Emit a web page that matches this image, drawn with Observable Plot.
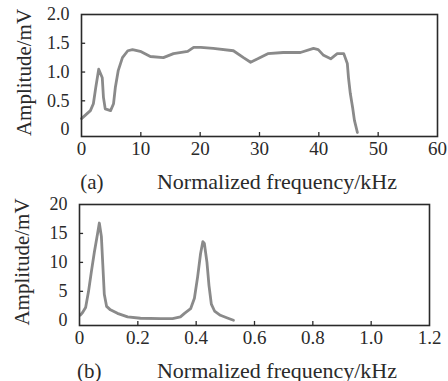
<!DOCTYPE html>
<html>
<head>
<meta charset="utf-8">
<script src="https://cdn.jsdelivr.net/npm/d3@7"></script>
<script src="https://cdn.jsdelivr.net/npm/@observablehq/plot@0.6"></script>
<style>
  html, body { margin: 0; padding: 0; background: #fff; }
  #chart svg { display: block; overflow: visible; }
</style>
</head>
<body>
<div id="chart"></div>
<script>
// Panel (a)
const freqA = [0, 1.5, 2.0, 2.4, 2.9, 3.5, 3.7, 4.0, 4.9, 5.4, 5.7, 6.2, 6.9, 7.8, 8.6, 9.9, 11.6, 13.8, 15.5, 17.9, 18.9, 20.1, 22.2, 25.6, 27.3, 28.5, 29.7, 31.4, 34.0, 36.9, 39.1, 39.9, 40.8, 42.0, 43.1, 44.2, 44.8, 45.0, 45.3, 45.7, 46.0, 46.5];
const ampA  = [0.19, 0.33, 0.45, 0.73, 1.05, 0.9, 0.56, 0.36, 0.33, 0.45, 0.73, 1.03, 1.25, 1.37, 1.39, 1.36, 1.27, 1.25, 1.32, 1.36, 1.43, 1.43, 1.41, 1.37, 1.25, 1.17, 1.23, 1.32, 1.34, 1.34, 1.41, 1.39, 1.29, 1.23, 1.32, 1.32, 1.15, 0.9, 0.63, 0.38, 0.16, -0.05];
const xTicksA = [0, 10, 20, 30, 40, 50, 60];
const yTicksA = [0, 0.5, 1.0, 1.5, 2.0];

// Panel (b)
const freqB = [0.003, 0.010, 0.021, 0.031, 0.041, 0.051, 0.062, 0.068, 0.075, 0.080, 0.085, 0.093, 0.106, 0.130, 0.165, 0.209, 0.278, 0.319, 0.346, 0.360, 0.381, 0.394, 0.405, 0.415, 0.423, 0.428, 0.437, 0.444, 0.452, 0.463, 0.483, 0.507, 0.528];
const ampB  = [0.9, 1.3, 2.2, 5.0, 8.5, 11.8, 15.0, 16.8, 14.5, 9.5, 4.5, 2.4, 1.8, 1.2, 0.6, 0.35, 0.3, 0.3, 0.6, 1.2, 2.0, 3.8, 7.5, 11.5, 13.6, 13.3, 10.0, 6.0, 2.8, 1.6, 0.86, 0.4, 0.0];
const xTicksB = [0, 0.2, 0.4, 0.6, 0.8, 1.0, 1.2];
const yTicksB = [0, 5, 10, 15, 20];

const xLabel = "Normalized frequency/kHz";
const yLabel = "Amplitude/mV";
const panelLabels = ["(a)", "(b)"];

const lineColor = "#8a8a8a";
const inkColor = "#2a2a2a";
const fmt1 = d => d === 0 ? "0" : d.toFixed(1);

function panel(opts) {
  const {freq, amp, xTicks, yTicks, xDomain, yDomain, height, margins, xFmt, yFmt, tag, xLabelDx, yTickLenX, xTickLenY} = opts;
  const data = freq.map((f, i) => ({f, a: amp[i]}));
  const innerX = xTicks.slice(1, -1);
  const innerY = yTicks.slice(1, -1);
  return Plot.plot({
    width: 448,
    height,
    ...margins,
    style: {fontFamily: "'Liberation Serif', 'Times New Roman', serif", color: inkColor, background: "#fff", overflow: "visible"},
    x: {domain: xDomain},
    y: {domain: yDomain},
    marks: [
      Plot.line(data, {x: "f", y: "a", stroke: lineColor, strokeWidth: 2.8, strokeLinejoin: "round", strokeLinecap: "round"}),
      Plot.ruleX(innerX, {y1: yDomain[0], y2: yDomain[0] + xTickLenY, stroke: inkColor, strokeWidth: 1.3}),
      Plot.ruleY(innerY, {x1: xDomain[0], x2: xDomain[0] + yTickLenX, stroke: inkColor, strokeWidth: 1.3}),
      Plot.frame({stroke: inkColor, strokeWidth: 1.6}),
      Plot.axisX({ticks: xTicks, tickSize: 0, tickPadding: 5, tickFormat: xFmt, fontSize: 19, label: null}),
      Plot.axisY({ticks: yTicks, tickSize: 0, tickPadding: 12, tickFormat: yFmt, fontSize: 18, label: null}),
      Plot.text([yLabel], {frameAnchor: "left", textAnchor: "middle", lineAnchor: "middle", rotate: -90, dx: -57, dy: -3, fontSize: 21, fill: inkColor}),
      Plot.text([xLabel], {frameAnchor: "bottom", textAnchor: "middle", dx: xLabelDx, dy: 52, lineAnchor: "bottom", fontSize: 22, fill: inkColor}),
      Plot.text([tag], {frameAnchor: "bottom-left", dx: 22, dy: 52, lineAnchor: "bottom", textAnchor: "end", fontSize: 21, fill: inkColor})
    ]
  });
}

const chart = document.getElementById("chart");
chart.append(panel({
  freq: freqA, amp: ampA, xTicks: xTicksA, yTicks: yTicksA,
  xDomain: [0, 60], yDomain: [-0.12, 2.0], height: 190,
  margins: {marginLeft: 81, marginRight: 11, marginTop: 14, marginBottom: 54},
  xFmt: d => String(d), yFmt: fmt1, tag: panelLabels[0], xLabelDx: 17.5,
  yTickLenX: 0.7, xTickLenY: 0.07
}));
chart.append(panel({
  freq: freqB, amp: ampB, xTicks: xTicksB, yTicks: yTicksB,
  xDomain: [0, 1.2], yDomain: [-0.9, 20], height: 191,
  margins: {marginLeft: 79, marginRight: 19, marginTop: 14, marginBottom: 56},
  xFmt: fmt1, yFmt: d => String(d), tag: panelLabels[1], xLabelDx: 22.5,
  yTickLenX: 0.014, xTickLenY: 0.7
}));
</script>
</body>
</html>
